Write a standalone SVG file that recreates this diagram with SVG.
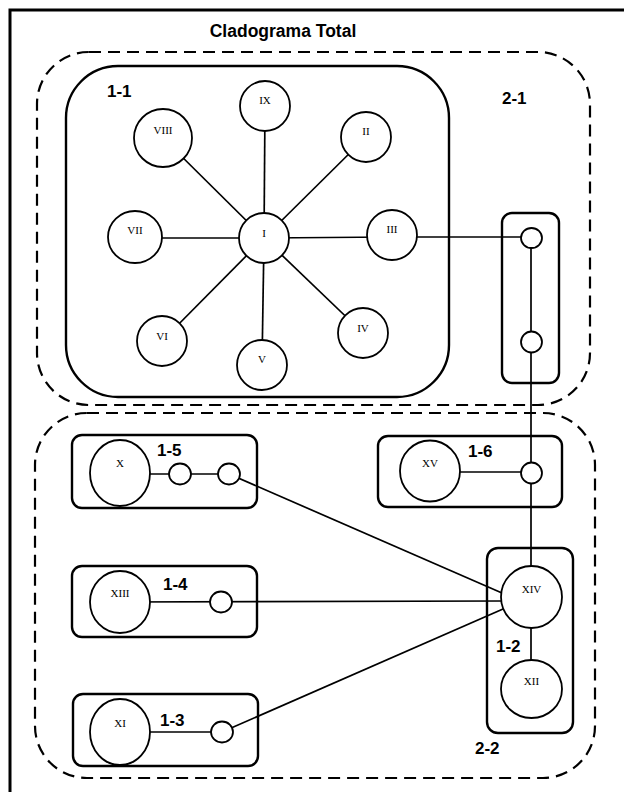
<svg xmlns="http://www.w3.org/2000/svg" width="624" height="792" viewBox="0 0 624 792">
<style>
.frame{fill:none;stroke:#000;stroke-width:3}
.dash{fill:none;stroke:#000;stroke-width:2.2;stroke-dasharray:12,7}
.box{fill:#fff;stroke:#000;stroke-width:2.4}
.node{fill:#fff;stroke:#000;stroke-width:1.8}
.edge{fill:none;stroke:#000;stroke-width:1.7}
.title{font-family:"Liberation Sans",Arial,sans-serif;font-weight:bold;font-size:17.5px;text-anchor:middle}
.lbl{font-family:"Liberation Sans",Arial,sans-serif;font-weight:bold;font-size:17px}
.nt{font-family:"Liberation Serif","Times New Roman",serif;font-size:11px;text-anchor:middle}
</style>
<rect x="0" y="0" width="624" height="792" fill="#fff"/>
<rect class="frame" x="10" y="10" width="630" height="800"/>
<text class="title" x="283" y="37">Cladograma Total</text>

<g id="group-2-1">
<rect class="dash" x="37" y="52" width="553" height="353" rx="52"/>
<text class="lbl" x="502" y="104">2-1</text>
</g>
<g id="group-2-2">
<rect class="dash" x="35" y="413" width="560" height="365" rx="52"/>
<text class="lbl" x="475" y="754">2-2</text>
</g>

<g id="box-1-1">
<rect class="box" x="66" y="66" width="383" height="331" rx="52"/>
<text class="lbl" x="107" y="97">1-1</text>
</g>
<g id="box-2-1-inner">
<rect class="box" x="502" y="213" width="57" height="170" rx="10"/>
</g>
<g id="box-1-5">
<rect class="box" x="72" y="435" width="185" height="73" rx="10"/>
<text class="lbl" x="157" y="456">1-5</text>
</g>
<g id="box-1-6">
<rect class="box" x="378" y="436" width="184" height="71" rx="10"/>
<text class="lbl" x="468" y="457">1-6</text>
</g>
<g id="box-1-4">
<rect class="box" x="72" y="566" width="185" height="71" rx="10"/>
<text class="lbl" x="163" y="590">1-4</text>
</g>
<g id="box-1-3">
<rect class="box" x="73" y="694" width="185" height="72" rx="10"/>
<text class="lbl" x="160" y="726">1-3</text>
</g>
<g id="box-1-2">
<rect class="box" x="487" y="548" width="86" height="185" rx="11"/>
<text class="lbl" x="496" y="652">1-2</text>
</g>

<g id="connectors">
<line class="edge" x1="264" y1="238" x2="265" y2="106"/>
<line class="edge" x1="264" y1="238" x2="163" y2="138"/>
<line class="edge" x1="264" y1="238" x2="366" y2="137"/>
<line class="edge" x1="264" y1="238" x2="135" y2="238"/>
<line class="edge" x1="264" y1="238" x2="392" y2="237"/>
<line class="edge" x1="264" y1="238" x2="162" y2="341"/>
<line class="edge" x1="264" y1="238" x2="262" y2="365"/>
<line class="edge" x1="264" y1="238" x2="363" y2="333"/>
<line class="edge" x1="392" y1="237" x2="531" y2="237"/>
<line class="edge" x1="531" y1="238" x2="531" y2="597"/>
<line class="edge" x1="120" y1="474" x2="229" y2="474"/>
<line class="edge" x1="229" y1="474" x2="502" y2="593"/>
<line class="edge" x1="430" y1="472" x2="531" y2="472"/>
<line class="edge" x1="120" y1="602" x2="502" y2="601"/>
<line class="edge" x1="120" y1="732" x2="222" y2="732"/>
<line class="edge" x1="222" y1="732" x2="503" y2="609"/>
<line class="edge" x1="531" y1="597" x2="531" y2="689"/>
</g>

<g id="n-I"><ellipse class="node" cx="264" cy="238" rx="25" ry="25"/><text class="nt" x="264" y="237">I</text></g>
<g id="n-IX"><ellipse class="node" cx="265" cy="106" rx="25" ry="25"/><text class="nt" x="265" y="104">IX</text></g>
<g id="n-VIII"><ellipse class="node" cx="163" cy="138" rx="29" ry="29"/><text class="nt" x="163" y="134">VIII</text></g>
<g id="n-II"><ellipse class="node" cx="366" cy="137" rx="25" ry="25"/><text class="nt" x="366" y="135">II</text></g>
<g id="n-VII"><ellipse class="node" cx="135" cy="237" rx="27" ry="26"/><text class="nt" x="135" y="234">VII</text></g>
<g id="n-III"><ellipse class="node" cx="392" cy="235" rx="25" ry="25"/><text class="nt" x="392" y="233">III</text></g>
<g id="n-VI"><ellipse class="node" cx="162" cy="341" rx="25" ry="25"/><text class="nt" x="162" y="340">VI</text></g>
<g id="n-V"><ellipse class="node" cx="262" cy="365" rx="25" ry="25"/><text class="nt" x="262" y="363">V</text></g>
<g id="n-IV"><ellipse class="node" cx="363" cy="333" rx="25" ry="25"/><text class="nt" x="363" y="332">IV</text></g>

<g id="n-21a"><ellipse class="node" cx="531.5" cy="238" rx="10.5" ry="10"/></g>
<g id="n-21b"><ellipse class="node" cx="531.5" cy="342" rx="10.5" ry="10.5"/></g>

<g id="n-X"><ellipse class="node" cx="120" cy="473" rx="30" ry="33"/><text class="nt" x="120" y="467">X</text></g>
<g id="n-15a"><ellipse class="node" cx="180" cy="474" rx="11" ry="10.5"/></g>
<g id="n-15b"><ellipse class="node" cx="229" cy="474" rx="11" ry="10.5"/></g>

<g id="n-XV"><ellipse class="node" cx="430" cy="471" rx="30" ry="30.5"/><text class="nt" x="430" y="467">XV</text></g>
<g id="n-16a"><ellipse class="node" cx="531.5" cy="473" rx="10.5" ry="10.5"/></g>

<g id="n-XIII"><ellipse class="node" cx="120" cy="602" rx="30" ry="31"/><text class="nt" x="120" y="597">XIII</text></g>
<g id="n-14a"><ellipse class="node" cx="221" cy="602" rx="11" ry="10.5"/></g>

<g id="n-XI"><ellipse class="node" cx="120" cy="732" rx="30" ry="33"/><text class="nt" x="120" y="727">XI</text></g>
<g id="n-13a"><ellipse class="node" cx="222" cy="732" rx="11" ry="10.5"/></g>

<g id="n-XIV"><ellipse class="node" cx="531.5" cy="597" rx="30.5" ry="31"/><text class="nt" x="531.5" y="593">XIV</text></g>
<g id="n-XII"><ellipse class="node" cx="531.5" cy="689" rx="30.5" ry="29"/><text class="nt" x="531.5" y="685">XII</text></g>
</svg>
